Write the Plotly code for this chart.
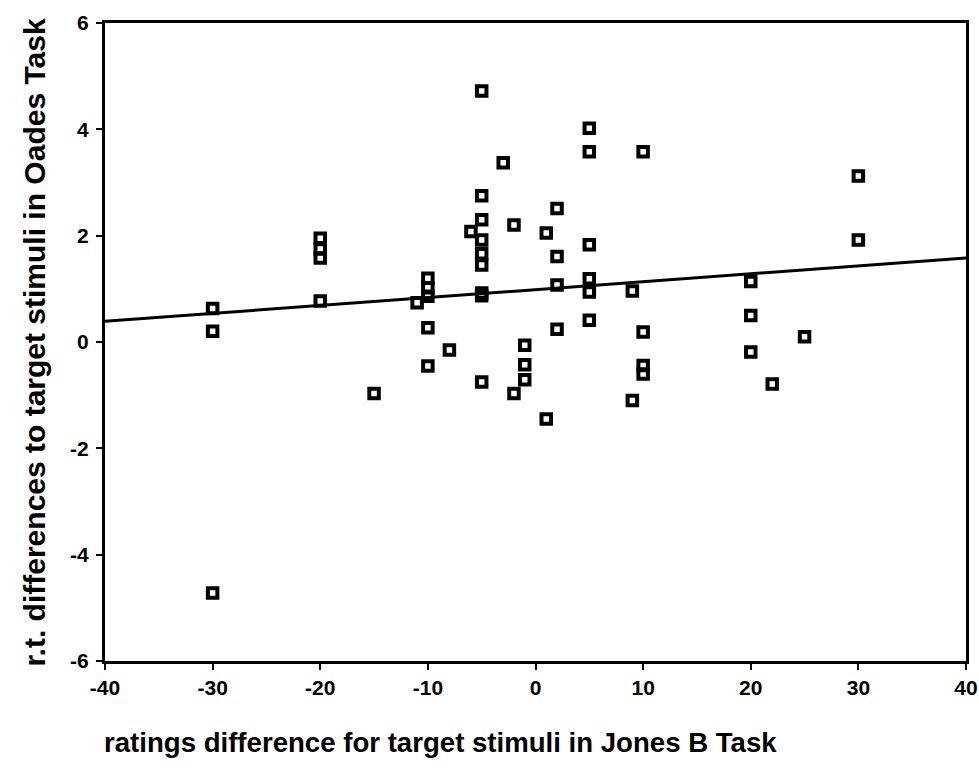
import plotly.graph_objects as go

# Ratings difference (Jones B task) vs r.t. difference (Oades task)
ratings_diff = [
    -30, -30, -30,
    -20, -20, -20, -20,
    -15,
    -11, -10, -10, -10, -10, -10,
    -8, -6,
    -5, -5, -5, -5, -5, -5, -5, -5, -5,
    -3, -2, -2,
    -1, -1, -1,
    1, 1,
    2, 2, 2, 2,
    5, 5, 5, 5, 5, 5,
    9, 9,
    10, 10, 10, 10,
    20, 20, 20,
    22, 25,
    30, 30,
]
rt_diff = [
    0.63, 0.20, -4.72,
    1.95, 1.75, 1.58, 0.77,
    -0.97,
    0.74, 1.20, 1.02, 0.86, 0.27, -0.45,
    -0.15, 2.08,
    4.72, 2.75, 2.30, 1.92, 1.66, 1.45, 0.87, 0.92, -0.75,
    3.37, 2.20, -0.97,
    -0.06, -0.43, -0.71,
    2.05, -1.45,
    2.51, 1.61, 1.07, 0.24,
    4.02, 3.58, 1.83, 1.19, 0.94, 0.41,
    0.96, -1.10,
    3.58, 0.19, -0.44, -0.60,
    1.14, 0.50, -0.19,
    -0.79, 0.10,
    3.12, 1.92,
]

# Fitted regression line, evaluated at the ends of the x range
fit_x = [-40, 40]
fit_y = [0.39, 1.58]

x_ticks = [-40, -30, -20, -10, 0, 10, 20, 30, 40]
x_tick_labels = ["-40", "-30", "-20", "-10", "0", "10", "20", "30", "40"]
y_ticks = [-6, -4, -2, 0, 2, 4, 6]
y_tick_labels = ["-6", "-4", "-2", "0", "2", "4", "6"]

font_family = "Liberation Sans, Arial, sans-serif"

fig = go.Figure()
fig.add_trace(go.Scatter(
    x=fit_x, y=fit_y, mode="lines",
    line=dict(color="black", width=3),
    hoverinfo="skip", showlegend=False,
))
fig.add_trace(go.Scatter(
    x=ratings_diff, y=rt_diff, mode="markers",
    marker=dict(symbol="square-open", size=9.5, color="black",
                line=dict(color="black", width=4)),
    showlegend=False,
))

axis_common = dict(
    showgrid=False, zeroline=False,
    showline=True, linecolor="black", linewidth=3, mirror=True,
    ticks="outside", ticklen=6, tickwidth=2, tickcolor="black",
    tickfont=dict(family=font_family, size=21, color="black", weight="bold"),
)

fig.update_layout(
    width=979, height=771,
    margin=dict(l=105, r=13, t=23, b=110, autoexpand=False),
    paper_bgcolor="white", plot_bgcolor="white",
    xaxis=dict(range=[-40, 40], tickvals=x_ticks,
               ticktext=x_tick_labels, **axis_common),
    yaxis=dict(range=[-6, 6], tickvals=y_ticks,
               ticktext=y_tick_labels,
               ticklabelstandoff=3, **axis_common),
    annotations=[
        dict(text="<b>ratings difference for target stimuli in Jones B Task</b>",
             xref="paper", yref="paper", x=-0.003, y=-0.1,
             xanchor="left", yanchor="top", showarrow=False,
             font=dict(family=font_family, size=27.6, color="black")),
        dict(text="<b>r.t. differences to target stimuli in Oades Task</b>",
             xref="paper", yref="paper", x=-0.082, y=0.5,
             xanchor="center", yanchor="middle", textangle=-90, showarrow=False,
             font=dict(family=font_family, size=30, color="black")),
    ],
)

fig.write_html("out.html")
